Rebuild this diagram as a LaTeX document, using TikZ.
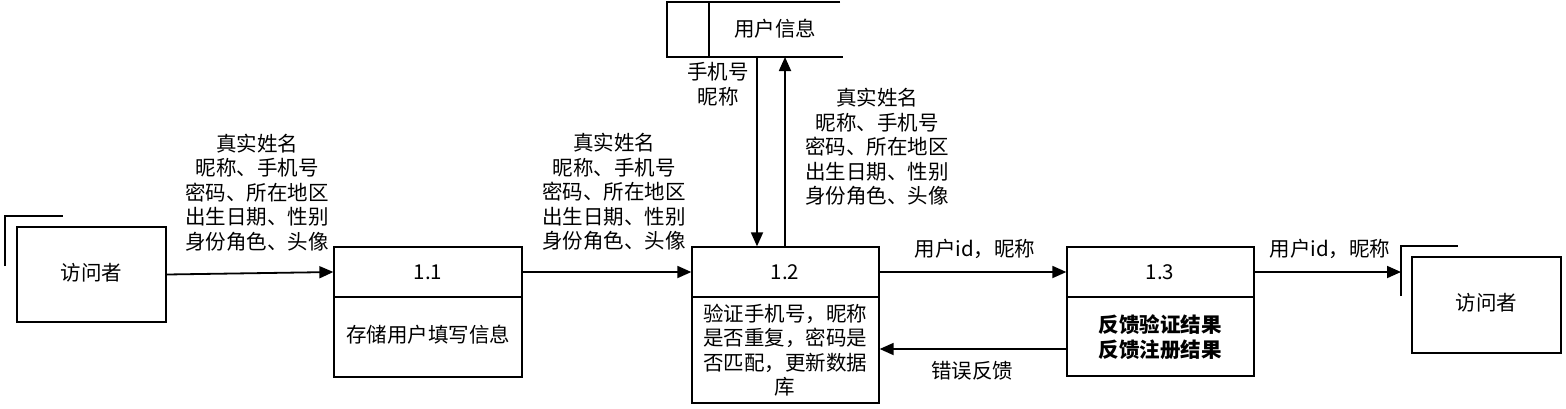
\documentclass[tikz,border=0pt]{standalone}
\usepackage{fontspec}
\setmainfont{Noto Sans CJK SC}
\usetikzlibrary{arrows.meta}
\begin{document}
\begin{tikzpicture}[x=1pt,y=-1pt,
  every node/.style={font=\fontsize{20.5}{24.5}\selectfont, inner sep=0pt},
  box/.style={draw, line width=1.3pt, rectangle},
  lbl/.style={align=center},
  arr/.style={line width=1.8pt, -{Triangle[length=14pt,width=12pt]}},
  ln/.style={line width=1.8pt}]
\useasboundingbox (0,0) rectangle (1566,408);
% external entities
\node[box, minimum width=149pt, minimum height=95pt] (e1) at (91.5,274.5) {};
\node (e1t) at (91.5,273) {访问者};
\draw[ln] (5,266) -- (5,216) -- (63,216);
\node[box, minimum width=149pt, minimum height=96pt] (e2) at (1486.5,305) {};
\node (e2t) at (1486.5,303) {访问者};
\draw[ln] (1401,296) -- (1401,246) -- (1458,246);
\coordinate (sh2) at (1401,272);
% data store
\draw[ln] (840,2) -- (667,2) -- (667,57) -- (843,57);
\draw[ln] (709,2) -- (709,57);
\node (ds) at (775,29) {用户信息};
\coordinate (dsA) at (757,57);
\coordinate (dsB) at (785,57);
% processes
\node[box, minimum width=188pt, minimum height=130pt] (p1) at (428,312) {};
\draw[line width=1.3pt] (p1.west |- 0,297) -- (p1.east |- 0,297);
\node (p1n) at (428,272) {1.1};
\node (p1t) at (428,335) {存储用户填写信息};
\node[box, minimum width=187pt, minimum height=156pt] (p2) at (785.5,325) {};
\draw[line width=1.3pt] (p2.west |- 0,297) -- (p2.east |- 0,297);
\node (p2n) at (785,272) {1.2};
\node[lbl] (p2t) at (785,350) {验证手机号，昵称\\是否重复，密码是\\否匹配，更新数据\\库};
\node[box, minimum width=187pt, minimum height=129pt] (p3) at (1160.5,311.5) {};
\draw[line width=1.3pt] (p3.west |- 0,297) -- (p3.east |- 0,297);
\node (p3n) at (1160,272) {1.3};
\node[lbl, font=\fontsize{20.5}{24.5}\selectfont\bfseries] (p3t) at (1160,337) {反馈验证结果\\反馈注册结果};
% flows
\draw[arr] (e1.east) -- (p1.west |- 0,272);
\draw[arr] (p1.east |- 0,272) -- (p2.west |- 0,272);
\draw[arr] (dsA) -- (p2.north -| dsA);
\draw[arr] (p2.north -| dsB) -- (dsB);
\draw[arr] (p2.east |- 0,272) -- (p3.west |- 0,272);
\draw[arr] (p3.east |- 0,272) -- (sh2);
\draw[arr] (p3.west |- 0,349) -- (p2.east |- 0,349);
% labels
\node[lbl] (l1) at (257,192.5) {真实姓名\\昵称、手机号\\密码、所在地区\\出生日期、性别\\身份角色、头像};
\node[lbl] (l2) at (614,192) {真实姓名\\昵称、手机号\\密码、所在地区\\出生日期、性别\\身份角色、头像};
\node[lbl] (l3) at (877,147) {真实姓名\\昵称、手机号\\密码、所在地区\\出生日期、性别\\身份角色、头像};
\node[lbl] (l4) at (718,84) {手机号\\昵称};
\node (l5) at (975,249) {用户id，昵称};
\node (l6) at (1330,249) {用户id，昵称};
\node (l7) at (972,371) {错误反馈};
\end{tikzpicture}
\end{document}
